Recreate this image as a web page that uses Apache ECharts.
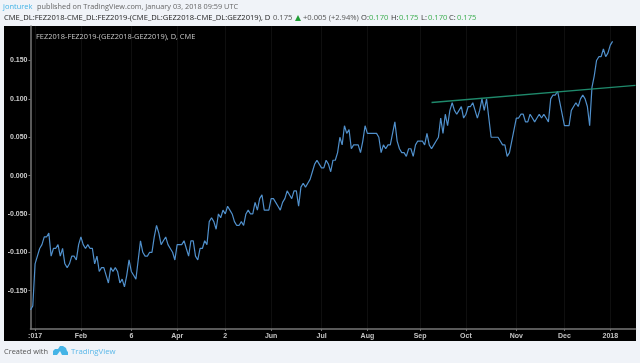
<!DOCTYPE html>
<html><head><meta charset="utf-8">
<style>html,body{margin:0;padding:0;background:#f0f3f8}#c{width:640px;height:363px}</style>
<script src="https://cdn.jsdelivr.net/npm/echarts@6/dist/echarts.min.js"></script>
</head><body><div id="c"></div>
<script>
const spreadValues = [
-.175,-.17,-.115,-.105,-.095,-.09,-.08,-.08,-.075,-.105,
-.095,-.095,-.09,-.105,-.095,-.115,-.12,-.115,-.105,-.105,
-.11,-.09,-.08,-.09,-.095,-.09,-.095,-.095,-.115,-.105,
-.125,-.12,-.12,-.13,-.14,-.12,-.125,-.12,-.125,-.14,
-.135,-.145,-.13,-.11,-.125,-.13,-.135,-.11,-.085,-.10,
-.105,-.105,-.10,-.10,-.08,-.065,-.075,-.09,-.085,-.08,
-.09,-.095,-.10,-.11,-.09,-.09,-.09,-.085,-.095,-.105,
-.085,-.085,-.105,-.11,-.095,-.095,-.085,-.09,-.06,-.055,
-.06,-.07,
-.05,-.055,-.045,-.05,-.04,-.045,-.05,-.06,-.065,-.065,
-.06,-.065,-.05,-.045,-.05,-.05,-.035,-.045,-.03,-.025,
-.045,-.045,-.045,-.03,-.03,-.035,-.04,-.045,-.035,-.03,
-.02,-.025,-.03,-.02,-.02,-.04,-.015,-.01,-.015,-.01,
-.005,.005,.015,.02,.015,.01,.01,.02,.015,.005,
.02,.02,.03,.05,.04,.065,.055,.06,.035,.04,
.04,.04,.03,.045,.065,.055,.055,.055,.055,.055,
.05,.03,.04,.035,.04,.04,.055,.07,.045,.035,
.03,.03,.025,.035,.035,.025,.04,.045,.045,
.045,.04,.055,.04,.035,.04,.045,.05,.075,.055,
.08,.065,.085,.095,.085,.08,.085,.09,.075,.08,
.09,.09,.095,.085,.075,.085,.10,.085,.10,.075,
.05,.05,.05,.05,.045,.04,.04,.025,.03,.045,
.06,.075,.075,.08,.08,.07,.07,.08,.075,.07,
.075,.08,.075,.08,.075,.07,.10,.105,.105,.11,
.095,.08,.065,.065,.065,.085,.09,.095,.09,.10,
.105,.10,.09,.065,.115,.13,.15,.155,.155,.165,
.155,.16,.17,.175];
const barCount = 265;
const tickIndex = [2,22,44,64,85,105,127,147,170,190,212,233,253];
const tickLabels = [':017','Feb','6','Apr','2','Jun','Jul','Aug','Sep','Oct','Nov','Dec','2018'];
const trendIndex = [175,264];
const trendValues = [0.0953,0.1175];
const yMin=-0.2, yMax=0.195, yStep=0.05;

const categories = Array.from({length:barCount},(_,i)=>{const k=tickIndex.indexOf(i);return k>=0?tickLabels[k]:String(i)});
const trendData = categories.map((_,i)=>{const k=trendIndex.indexOf(i);return k>=0?trendValues[k]:null});
const isTick = i=>tickIndex.includes(i);
const UI='"Open Sans","Liberation Sans",sans-serif';
const AX='"Liberation Sans",Arial,sans-serif';
const t=(x,y,text,fill,size,weight)=>({type:'text',x,y,silent:true,z:5,style:{text,fill,font:`${weight||'normal'} ${size}px ${UI}`,textVerticalAlign:'middle'}});
const chart=echarts.init(document.getElementById('c'));
chart.setOption({
 animation:false,backgroundColor:'#f0f3f8',
 grid:{left:30.5,top:26,width:605,height:303,show:false},
 xAxis:{type:'category',data:categories,boundaryGap:false,
  axisLine:{onZero:false,lineStyle:{color:'#777',width:1.5}},
  axisTick:{interval:i=>isTick(i),length:2,lineStyle:{color:'#777'}},
  axisLabel:{interval:i=>isTick(i),hideOverlap:false,color:'#c4c4c4',fontSize:7,fontWeight:'bold',fontFamily:AX,margin:4},
  splitLine:{show:true,interval:i=>isTick(i),lineStyle:{color:'#0f0f0f',width:1}}},
 yAxis:{type:'value',min:yMin,max:yMax,interval:yStep,
  axisLine:{show:true,lineStyle:{color:'#777',width:1.5}},
  axisTick:{show:true,length:2,lineStyle:{color:'#777'}},
  axisLabel:{showMinLabel:false,showMaxLabel:false,color:'#cccccc',fontSize:7,fontWeight:'bold',fontFamily:AX,margin:3,formatter:v=>v.toFixed(3)},
  splitLine:{show:false}},
 graphic:{elements:[
  {type:'rect',silent:true,z:-10,shape:{x:4,y:26,width:632,height:315},style:{fill:'#000'}},
  t(3,7,'jonturek','#45b4e6',7.5),
  t(37,7,'published on TradingView.com, January 03, 2018 09:59 UTC','#666',7.3),
  t(4,18,'CME_DL:FEZ2018-CME_DL:FEZ2019-(CME_DL:GEZ2018-CME_DL:GEZ2019), D','#222',7.6),
  t(273,18,'0.175','#555',7.6),
  {type:'polygon',silent:true,z:5,shape:{points:[[295,21],[301,21],[298,15]]},style:{fill:'#1f9d35'}},
  t(303,18,'+0.005 (+2.94%)','#555',7.6),
  t(361,18,'O:','#333',7.6),t(369,18,'0.170','#3dae50',7.6),
  t(391,18,'H:','#333',7.6),t(399,18,'0.175','#3dae50',7.6),
  t(421,18,'L:','#333',7.6),t(428,18,'0.170','#3dae50',7.6),
  t(449,18,'C:','#333',7.6),t(457,18,'0.175','#3dae50',7.6),
  t(36,37,'FEZ2018-FEZ2019-(GEZ2018-GEZ2019), D, CME','#c8c8c8',7.4),
  t(4,352,'Created with','#555',7.4),
  {type:'polygon',silent:true,z:5,shape:{points:[[53,355],[53,351],[55,349],[58,349],[60,346],[63,346],[66,348],[67,351],[68,352],[68,355],[62,355],[60,351],[57,355]]},style:{fill:'#45b4e6'}},
  t(71,352,'TradingView','#5cb8e8',7.8)
 ]},
 series:[
  {type:'line',name:'spread',data:spreadValues,showSymbol:false,symbol:'none',lineStyle:{color:'#5090cc',width:1.2},z:3},
  {type:'line',name:'trend',data:trendData,connectNulls:true,showSymbol:false,symbol:'none',lineStyle:{color:'#1f8a6c',width:1.3},z:4}
 ]
});
</script></body></html>
